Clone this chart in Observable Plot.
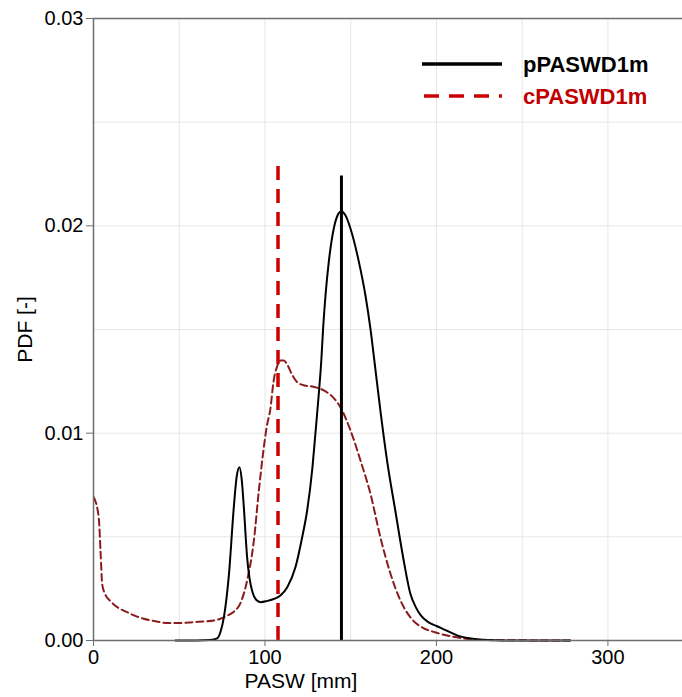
<!DOCTYPE html>
<html>
<head>
<meta charset="utf-8">
<script src="https://cdn.jsdelivr.net/npm/d3@7"></script>
<script src="https://cdn.jsdelivr.net/npm/@observablehq/plot@0.6"></script>
<style>
  html, body { margin: 0; padding: 0; background: #fff; }
  #chart { width: 682px; height: 697px; }
</style>
</head>
<body>
<div id="chart"></div>
<script>
// pPASWD1m (solid black) density curve
const pX = [47.8, 60, 68, 72.1, 74, 76, 79, 81.8, 83.5, 85.1, 86.4, 87.7, 89.6, 91, 92.5, 95, 97.4, 101, 105.1, 109, 113, 117.8, 121.7, 124.6, 127.5, 129.4, 131.4, 132.8, 133.9, 135.3, 137.2, 140.1, 142.3, 144.4, 147, 149.9, 154.8, 158.6, 161.5, 163.9, 167.3, 171.2, 176, 180.9, 184.8, 188, 191, 195, 200, 206, 212, 220, 230, 240, 278];
const pY = [0, 0, 0.00002, 0.0001, 0.0004, 0.0011, 0.0032, 0.0064, 0.0079, 0.00836, 0.0078, 0.0064, 0.0040, 0.0030, 0.0024, 0.00195, 0.00185, 0.0019, 0.0020, 0.00217, 0.00257, 0.00354, 0.00498, 0.00627, 0.0082, 0.00997, 0.0119, 0.01343, 0.01504, 0.01664, 0.01825, 0.01986, 0.0205, 0.02069, 0.0205, 0.01986, 0.01825, 0.01664, 0.01504, 0.01343, 0.0111, 0.00868, 0.00627, 0.00386, 0.00225, 0.0016, 0.0012, 0.0009, 0.0007, 0.00048, 0.00025, 0.0001, 0.00002, 0, 0];

// cPASWD1m (dashed dark red) density curve
const cX = [0.2, 3.1, 4.1, 5.1, 7, 9.9, 14, 19.6, 24, 29.3, 36, 43, 50, 58.5, 65, 70.2, 74, 78, 82, 85.7, 89.6, 93.5, 96.4, 99, 101, 103.2, 105, 107, 109, 111, 113, 116, 118.8, 123, 127.5, 134.3, 140, 144, 149.9, 155.7, 161.5, 167.3, 173.2, 179, 181, 186, 192.4, 199, 206.2, 216, 230, 278];
const cY = [0.0069, 0.0059, 0.0043, 0.0027, 0.0022, 0.0019, 0.0016, 0.00137, 0.0012, 0.00105, 0.00093, 0.00084, 0.00084, 0.00089, 0.00092, 0.00096, 0.00105, 0.0012, 0.0014, 0.0018, 0.0029, 0.0048, 0.0072, 0.0091, 0.0103, 0.0112, 0.0125, 0.0132, 0.0135, 0.0135, 0.0133, 0.0128, 0.01246, 0.0123, 0.01225, 0.01206, 0.0117, 0.01125, 0.01013, 0.00868, 0.00708, 0.00498, 0.00322, 0.00193, 0.0016, 0.0010, 0.0006, 0.0004, 0.00024, 0.0001, 0.00002, 0];

// Reference (mean) vertical lines
const meanP = { x: 144.6, top: 0.0224 };
const meanC = { x: 107.6, top: 0.0229 };

const seriesNames = ["pPASWD1m", "cPASWD1m"];
const xTicks = [0, 100, 200, 300];
const yTicks = [0, 0.01, 0.02, 0.03];
const xGrid = [0, 50, 100, 150, 200, 250, 300];
const yGrid = [0.005, 0.01, 0.015, 0.02, 0.025];
const xLabel = "PASW [mm]";
const yLabel = "PDF [-]";

const pData = pX.map((x, i) => ({ x, y: pY[i] }));
const cData = cX.map((x, i) => ({ x, y: cY[i] }));

const font = "'Liberation Sans', Arial, sans-serif";

const chart = Plot.plot({
  width: 682,
  height: 697,
  marginLeft: 93,
  marginRight: 0,
  marginTop: 18,
  marginBottom: 57,
  style: { fontFamily: font, fontSize: "20px", color: "#000", background: "#fff", overflow: "visible" },
  x: { domain: [0, 343.5] },
  y: { domain: [0, 0.03] },
  marks: [
    Plot.gridX(xGrid, { stroke: "#e6e6e6", strokeOpacity: 1, strokeWidth: 1 }),
    Plot.gridY(yGrid, { stroke: "#e6e6e6", strokeOpacity: 1, strokeWidth: 1 }),
    Plot.ruleY([yTicks[yTicks.length - 1]], { stroke: "#6e6e6e", strokeWidth: 1.5 }),
    Plot.axisX(xTicks, { tickSize: 6, tickPadding: 3, stroke: "#6e6e6e", fill: "#000", fontSize: 20, label: null, tickFormat: d3.format("d") }),
    Plot.axisY(yTicks, { tickSize: 7, tickPadding: 3, stroke: "#6e6e6e", fill: "#000", fontSize: 20, label: null, tickFormat: d3.format(".2f") }),
    Plot.line(cData, { x: "x", y: "y", stroke: "#8b1c1c", strokeWidth: 2, strokeDasharray: "7,4", curve: "monotone-x" }),
    Plot.line(pData, { x: "x", y: "y", stroke: "#000", strokeWidth: 2, curve: "monotone-x" }),
    Plot.ruleX([meanC], { x: "x", y1: 0, y2: "top", stroke: "#cc0000", strokeWidth: 3.5, strokeDasharray: "14,9" }),
    Plot.ruleX([meanP], { x: "x", y1: 0, y2: "top", stroke: "#000", strokeWidth: 3 }),
    Plot.ruleX([0], { stroke: "#6e6e6e", strokeWidth: 1.5 }),
    Plot.ruleY([0], { stroke: "#6e6e6e", strokeWidth: 1.5 }),
    Plot.text([xLabel], { text: d => d, frameAnchor: "bottom", dx: -87, dy: 47, fontSize: 21, fill: "#000", textAnchor: "middle" }),
    Plot.text([yLabel], { text: d => d, frameAnchor: "left", dx: -68, rotate: -90, fontSize: 21, fill: "#000", textAnchor: "middle" })
  ]
});

document.getElementById("chart").appendChild(chart);

// Legend (inside the plot, top-right)
const svg = d3.select(chart);
const lg = svg.append("g")
  .attr("font-family", font)
  .attr("font-weight", "bold")
  .attr("font-size", 22)
  .attr("text-anchor", "start");
const legendItems = [
  { name: seriesNames[0], stroke: "#000", dash: null, color: "#000", y: 64 },
  { name: seriesNames[1], stroke: "#cc0000", dash: "15,10", color: "#c00000", y: 96 }
];
legendItems.forEach(it => {
  lg.append("line").attr("x1", it.dash ? 424 : 422).attr("x2", 502).attr("y1", it.y).attr("y2", it.y)
    .attr("stroke", it.stroke).attr("stroke-width", 3.5).attr("stroke-dasharray", it.dash);
  lg.append("text").attr("x", 523).attr("y", it.y + 8).attr("fill", it.color)
    .style("text-anchor", "start").text(it.name);
});
</script>
</body>
</html>
